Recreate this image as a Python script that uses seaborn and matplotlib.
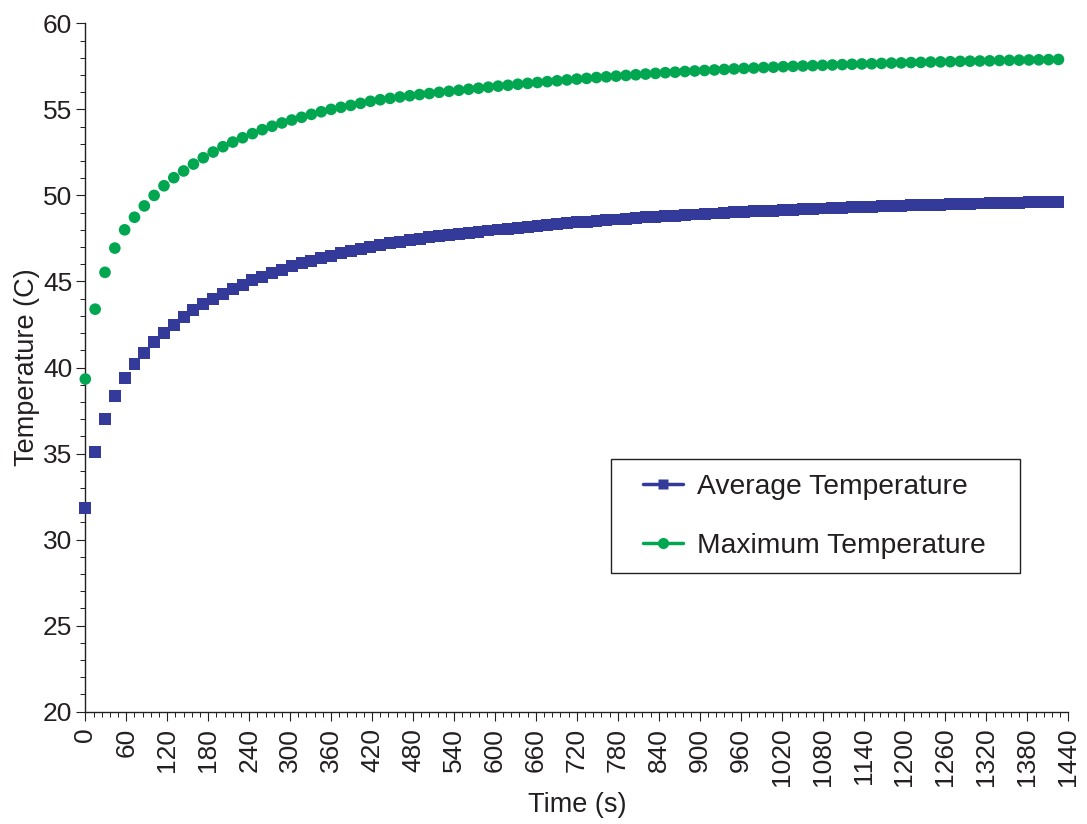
import matplotlib
matplotlib.use("Agg")
import matplotlib.pyplot as plt
from matplotlib.lines import Line2D
from matplotlib.patches import Rectangle
from matplotlib.ticker import MultipleLocator
import seaborn as sns
import pandas as pd

time_s = [0.0, 14.4, 28.8, 43.2, 57.6, 72.0, 86.4, 100.8, 115.2, 129.6,
          144.0, 158.4, 172.8, 187.2, 201.6, 216.0, 230.4, 244.8, 259.2, 273.6,
          288.0, 302.4, 316.8, 331.2, 345.6, 360.0, 374.4, 388.8, 403.2, 417.6,
          432.0, 446.4, 460.8, 475.2, 489.6, 504.0, 518.4, 532.8, 547.2, 561.6,
          576.0, 590.4, 604.8, 619.2, 633.6, 648.0, 662.4, 676.8, 691.2, 705.6,
          720.0, 734.4, 748.8, 763.2, 777.6, 792.0, 806.4, 820.8, 835.2, 849.6,
          864.0, 878.4, 892.8, 907.2, 921.6, 936.0, 950.4, 964.8, 979.2, 993.6,
          1008.0, 1022.4, 1036.8, 1051.2, 1065.6, 1080.0, 1094.4, 1108.8, 1123.2, 1137.6,
          1152.0, 1166.4, 1180.8, 1195.2, 1209.6, 1224.0, 1238.4, 1252.8, 1267.2, 1281.6,
          1296.0, 1310.4, 1324.8, 1339.2, 1353.6, 1368.0, 1382.4, 1396.8, 1411.2, 1425.6]

average_temp = [31.82, 35.07, 36.99, 38.34, 39.37, 40.20, 40.86, 41.46, 42.00, 42.49,
                42.92, 43.32, 43.67, 44.00, 44.29, 44.56, 44.81, 45.07, 45.28, 45.49,
                45.68, 45.88, 46.05, 46.21, 46.36, 46.50, 46.64, 46.75, 46.89, 47.00,
                47.12, 47.22, 47.31, 47.40, 47.49, 47.57, 47.64, 47.71, 47.78, 47.84,
                47.90, 47.96, 48.02, 48.07, 48.13, 48.18, 48.23, 48.28, 48.33, 48.38,
                48.43, 48.47, 48.51, 48.56, 48.60, 48.64, 48.68, 48.72, 48.75, 48.79,
                48.82, 48.86, 48.89, 48.92, 48.95, 48.98, 49.01, 49.04, 49.07, 49.10,
                49.12, 49.15, 49.17, 49.20, 49.22, 49.24, 49.27, 49.29, 49.31, 49.33,
                49.35, 49.37, 49.38, 49.40, 49.42, 49.44, 49.45, 49.47, 49.48, 49.50,
                49.51, 49.53, 49.54, 49.55, 49.57, 49.58, 49.59, 49.61, 49.62, 49.63]

maximum_temp = [39.33, 43.39, 45.53, 46.94, 48.00, 48.73, 49.39, 50.00, 50.56, 51.03,
                51.42, 51.82, 52.19, 52.52, 52.83, 53.10, 53.35, 53.59, 53.82, 54.02,
                54.21, 54.38, 54.54, 54.71, 54.86, 55.00, 55.12, 55.23, 55.35, 55.47,
                55.56, 55.64, 55.72, 55.79, 55.86, 55.92, 55.99, 56.05, 56.11, 56.17,
                56.23, 56.29, 56.35, 56.40, 56.46, 56.51, 56.56, 56.61, 56.66, 56.71,
                56.76, 56.80, 56.85, 56.89, 56.93, 56.97, 57.01, 57.05, 57.09, 57.13,
                57.16, 57.20, 57.23, 57.26, 57.29, 57.32, 57.35, 57.38, 57.40, 57.43,
                57.45, 57.48, 57.50, 57.52, 57.54, 57.56, 57.58, 57.60, 57.62, 57.64,
                57.65, 57.67, 57.69, 57.70, 57.72, 57.73, 57.75, 57.76, 57.77, 57.79,
                57.80, 57.81, 57.82, 57.84, 57.85, 57.86, 57.87, 57.88, 57.89, 57.90]

series_names = ["Average Temperature", "Maximum Temperature"]
x_ticks = list(range(0, 1441, 60))
y_ticks = [20, 25, 30, 35, 40, 45, 50, 55, 60]

BLUE = "#343A99"
GREEN = "#00A650"
TXT = "#231F20"

sns.set_theme(style="ticks")
plt.rcParams["font.family"] = ["Liberation Sans", "DejaVu Sans"]

fig = plt.figure(figsize=(10.87, 8.24), dpi=100)
ax = fig.add_axes([0.0785, 0.1363, 0.9043, 0.8354])

df_avg = pd.DataFrame({"t": time_s, "T": average_temp})
df_max = pd.DataFrame({"t": time_s, "T": maximum_temp})

sns.scatterplot(data=df_avg, x="t", y="T", ax=ax, marker="s", s=74,
                color=BLUE, edgecolor="none", linewidth=0, zorder=3, clip_on=False)
sns.scatterplot(data=df_max, x="t", y="T", ax=ax, marker="o", s=70,
                color=GREEN, edgecolor="none", linewidth=0, zorder=3, clip_on=False)

ax.set_xlim(0, 1440)
ax.set_ylim(20, 60)
ax.set_xticks(x_ticks)
ax.set_xticklabels([str(v) for v in x_ticks], rotation=90)
ax.set_yticks(y_ticks)
ax.xaxis.set_minor_locator(MultipleLocator(12))
ax.yaxis.set_minor_locator(MultipleLocator(1))

for side in ["top", "right"]:
    ax.spines[side].set_visible(False)
for side in ["left", "bottom"]:
    ax.spines[side].set_color(TXT)
    ax.spines[side].set_linewidth(1.0)

ax.tick_params(axis="both", which="major", length=6.5, width=0.8, color=TXT,
               labelsize=19, labelcolor=TXT, direction="out")
ax.tick_params(axis="both", which="minor", length=3.3, width=0.7, color=TXT,
               direction="out")
ax.tick_params(axis="x", which="major", pad=5)
ax.tick_params(axis="y", which="major", pad=3)

ax.set_xlabel("Time (s)", fontsize=19.5, color=TXT, labelpad=4)
ax.set_ylabel("Temperature (C)", fontsize=19.5, color=TXT, labelpad=2)
ax.grid(False)

# legend frame
frame = Rectangle((0.5348, 0.2015), 0.9509 - 0.5348, 0.3671 - 0.2015,
                  transform=ax.transAxes, facecolor="white", edgecolor=TXT,
                  linewidth=1.0, zorder=4)
ax.add_patch(frame)

handles = [
    Line2D([], [], color=BLUE, lw=2.5, marker="s", ms=7.5, mec="none"),
    Line2D([], [], color=GREEN, lw=2.5, marker="o", ms=8, mec="none"),
]
leg = ax.legend(handles, series_names, loc="upper left",
                bbox_to_anchor=(0.5673, 0.346), bbox_transform=ax.transAxes,
                fontsize=20.3, frameon=False, borderpad=0, labelspacing=1.17,
                handlelength=1.42, handletextpad=0.5, borderaxespad=0)
leg.set_zorder(5)
for t in leg.get_texts():
    t.set_color(TXT)

fig.savefig("out.png", dpi=100)
